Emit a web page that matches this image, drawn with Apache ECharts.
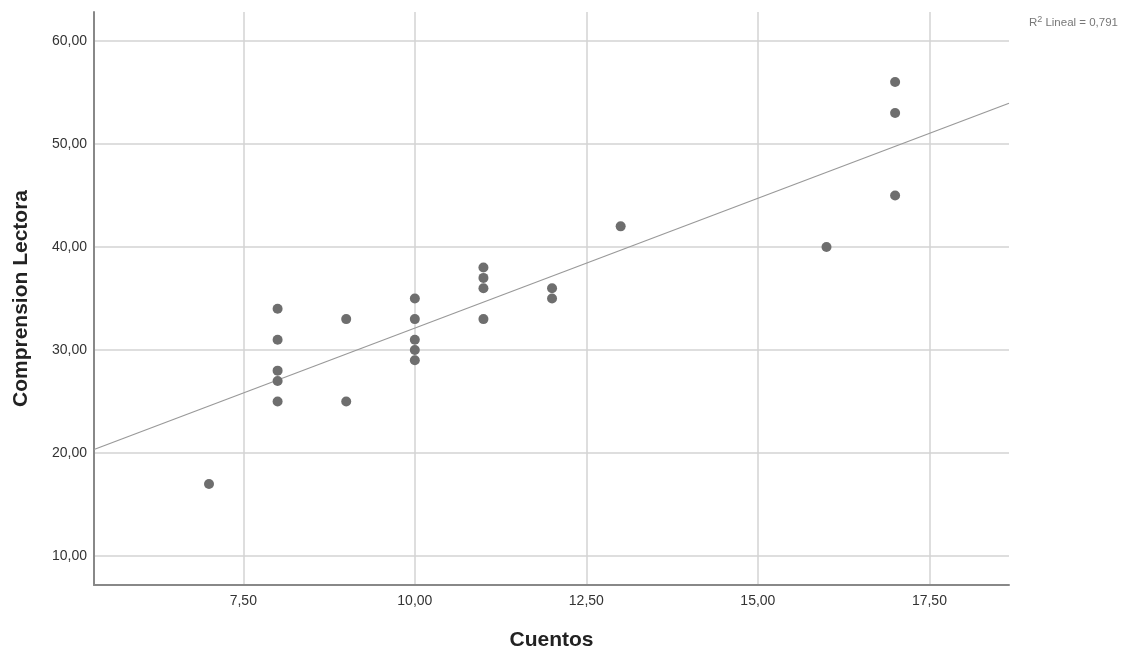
<!DOCTYPE html>
<html>
<head>
<meta charset="utf-8">
<script src="https://cdn.jsdelivr.net/npm/echarts@6/dist/echarts.min.js"></script>
<style>html,body{margin:0;padding:0;background:#fff;}#c{width:1123px;height:656px;}</style>
</head>
<body>
<div id="c"></div>
<script>
const cuentos = [7, 8, 8, 8, 8, 8, 9, 9, 10, 10, 10, 10, 10, 11, 11, 11, 11, 12, 12, 13, 16, 17, 17, 17];
const comprension = [17, 34, 31, 28, 27, 25, 33, 25, 35, 33, 31, 30, 29, 38, 37, 36, 33, 36, 35, 42, 40, 56, 53, 45];
const xTicks = [7.5, 10, 12.5, 15, 17.5];
const yTicks = [10, 20, 30, 40, 50, 60];
const xRange = [5.324, 18.66];
const yRange = [7.2, 62.8];
const r2Text = '0,791';

// least squares fit from the data
const n = cuentos.length;
const mx = cuentos.reduce((a, b) => a + b, 0) / n;
const my = comprension.reduce((a, b) => a + b, 0) / n;
let sxy = 0, sxx = 0;
for (let i = 0; i < n; i++) { sxy += (cuentos[i] - mx) * (comprension[i] - my); sxx += (cuentos[i] - mx) ** 2; }
const slope = sxy / sxx, icpt = my - slope * mx;
const fitLine = xRange.map(x => [x, icpt + slope * x]);

const FONT = 'Liberation Sans, Arial, sans-serif';
const fmt = v => v.toFixed(2).replace('.', ',');
const chart = echarts.init(document.getElementById('c'));
chart.setOption({
  animation: false,
  textStyle: { fontFamily: FONT },
  grid: { left: 94, right: 114, top: 12, bottom: 68, containLabel: false },
  xAxis: {
    type: 'value', min: xRange[0], max: xRange[1],
    name: 'Cuentos', nameLocation: 'middle', nameGap: 45,
    nameTextStyle: { fontSize: 21, fontWeight: 'bold', color: '#222', fontFamily: FONT },
    axisLine: { lineStyle: { color: '#888', width: 2 } },
    axisTick: { show: false, customValues: xTicks },
    axisLabel: { customValues: xTicks, formatter: fmt, color: '#333', fontSize: 14, margin: 9 },
    splitLine: { show: true, lineStyle: { color: '#d3d3d3', width: 1.5 } }
  },
  yAxis: {
    type: 'value', min: yRange[0], max: yRange[1],
    name: 'Comprension Lectora', nameLocation: 'middle', nameGap: 62, nameRotate: 90,
    nameTextStyle: { fontSize: 21, fontWeight: 'bold', color: '#222', fontFamily: FONT },
    axisLine: { show: true, lineStyle: { color: '#888', width: 2 } },
    axisTick: { show: false, customValues: yTicks },
    axisLabel: { customValues: yTicks, formatter: fmt, color: '#333', fontSize: 14, margin: 7 },
    splitLine: { show: true, lineStyle: { color: '#d3d3d3', width: 1.5 } }
  },
  graphic: [{
    type: 'text', right: 5, top: 15,
    style: {
      text: '{t|R}{s|2}{t| Lineal = ' + r2Text + '}',
      rich: {
        t: { fontSize: 11.5, fill: '#777', fontFamily: FONT },
        s: { fontSize: 9, fill: '#777', verticalAlign: 'top', padding: [0, 0, 6, 0], fontFamily: FONT }
      }
    }
  }],
  series: [
    {
      type: 'line', data: fitLine, showSymbol: false, symbol: 'none',
      lineStyle: { color: '#999', width: 1.2 }, silent: true, z: 2
    },
    {
      type: 'scatter', data: cuentos.map((x, i) => [x, comprension[i]]),
      symbolSize: 10, itemStyle: { color: '#6e6e6e', opacity: 1 }, z: 3
    }
  ]
});
</script>
</body>
</html>
